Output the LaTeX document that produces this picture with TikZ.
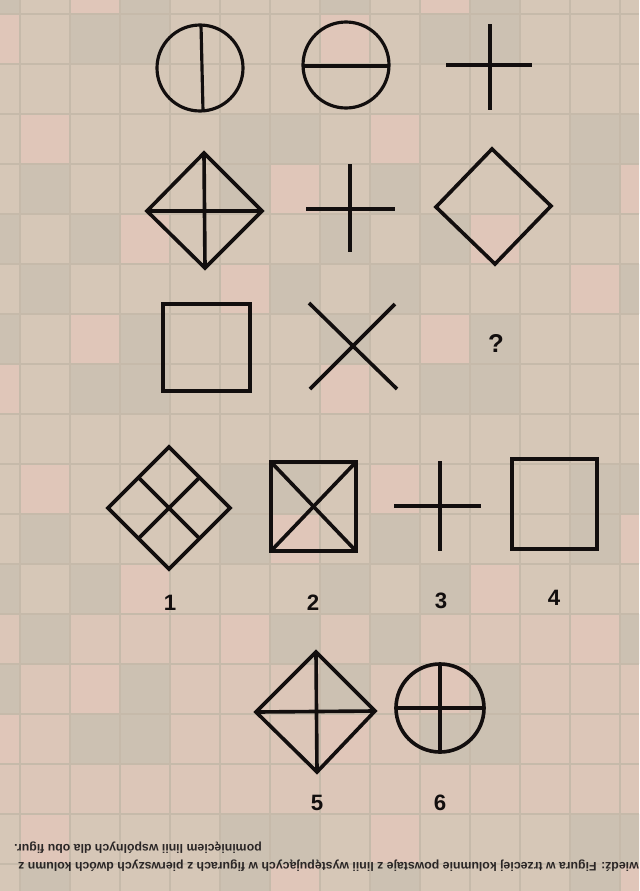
\documentclass[tikz,border=0pt]{standalone}
\usepackage{fontspec}
\setmainfont{Liberation Sans}
\usetikzlibrary{positioning}
\definecolor{paper}{RGB}{214,199,183}
\definecolor{paperdark}{RGB}{204,193,178}
\definecolor{paperpink}{RGB}{224,198,185}
\definecolor{gridline}{RGB}{198,186,170}
\definecolor{ink}{RGB}{18,14,14}

\begin{document}
\begin{tikzpicture}[x=0.03cm, y=-0.03cm, line join=miter,
    fig/.style={draw=ink, line width=3.1pt},
    thin fig/.style={fig, line width=2.7pt},
    num/.style={font=\fontsize{19}{21}\selectfont\bfseries, text=ink, inner sep=0pt},
    note/.style={font=\fontsize{10.5}{12}\selectfont\bfseries, text=ink!90, inner sep=0pt, rotate=180, anchor=west}]
    % paper and faded grid
    \useasboundingbox (0,0) rectangle (639,891);
    \clip (0,0) rectangle (639,891);
    \fill[paper] (0,0) rectangle (639,891);
    \fill[paperpink!60!paper] (0,614) rectangle (639,814);
    \foreach \i in {0,...,13} {
      \foreach \j in {0,...,18} {
        \pgfmathtruncatemacro{\s}{mod(\i*5+\j*3+\i*\j,7)}
        \ifnum\s<2
          \fill[paperdark] ({20+50*(\i-1)},{14+50*(\j-1)}) rectangle ++(50,50);
        \fi
        \ifnum\s=3
          \fill[paperpink] ({20+50*(\i-1)},{14+50*(\j-1)}) rectangle ++(50,50);
        \fi
      }
    }
    \foreach \x in {20,70,...,620} \draw[gridline, line width=1pt] (\x,0) -- (\x,891);
    \foreach \y in {14,64,...,864} \draw[gridline, line width=1pt] (0,\y) -- (639,\y);

    % row 1
    \draw[thin fig] (200,68) circle (43);
    \draw[thin fig] (201,25) -- (203,111);
    \draw[thin fig] (346,65) circle (43);
    \draw[thin fig] (303,66) -- (389,66);
    \draw[thin fig] (490,24) -- (490,110);
    \draw[thin fig] (446,65) -- (532,65);

    % row 2
    \draw[fig] (147,211) -- (204,153) -- (262,211) -- (205,268) -- cycle;
    \draw[fig] (147,211) -- (262,211);
    \draw[fig] (204,153) -- (205,268);
    \draw[fig] (350,164) -- (350,252);
    \draw[fig] (306,209) -- (395,209);
    \draw[fig] (436,207) -- (492,149) -- (551,206) -- (495,264) -- cycle;

    % row 3
    \draw[fig] (163,304) rectangle (250,391);
    \draw[fig] (309,303) -- (397,389);
    \draw[fig] (395,304) -- (310,389);
    \node[num, font=\fontsize{22}{24}\selectfont\bfseries] (quest) at (496,343) {?};

    % answers 1-4
    \draw[fig] (169,447) -- (230,508) -- (169,569) -- (108,508) -- cycle;
    \draw[fig] (138.5,477.5) -- (199.5,538.5);
    \draw[fig] (199.5,477.5) -- (138.5,538.5);
    \draw[fig] (271,462) rectangle (356,551);
    \draw[fig] (271,462) -- (356,551);
    \draw[fig] (356,462) -- (271,551);
    \draw[fig] (440,461) -- (440,551);
    \draw[fig] (394,506) -- (481,506);
    \draw[fig] (512,459) rectangle (597,549);

    % answers 5-6
    \draw[fig] (256,712) -- (316,652) -- (375,711) -- (317,772) -- cycle;
    \draw[fig] (256,712) -- (375,711);
    \draw[fig] (316,652) -- (317,772);
    \draw[fig] (440,708) circle (44);
    \draw[fig] (396,708) -- (484,708);
    \draw[fig] (440,664) -- (440,752);

    \foreach \n/\x/\y in {1/170/603,2/313/603,3/441/601,4/554/598,5/317/803,6/440/803}
      \node[num] (ans\n) at (\x,\y) {\n};

    % answer text, printed upside down
    \node[note] (line1) at (639,866) {wiedź: Figura w trzeciej kolumnie powstaje z linii występujących w figurach z pierwszych dwóch kolumn z};
    \node[note] (line2) at (262,848) {pominięciem linii wspólnych dla obu figur.};
  \end{tikzpicture}
\end{document}
